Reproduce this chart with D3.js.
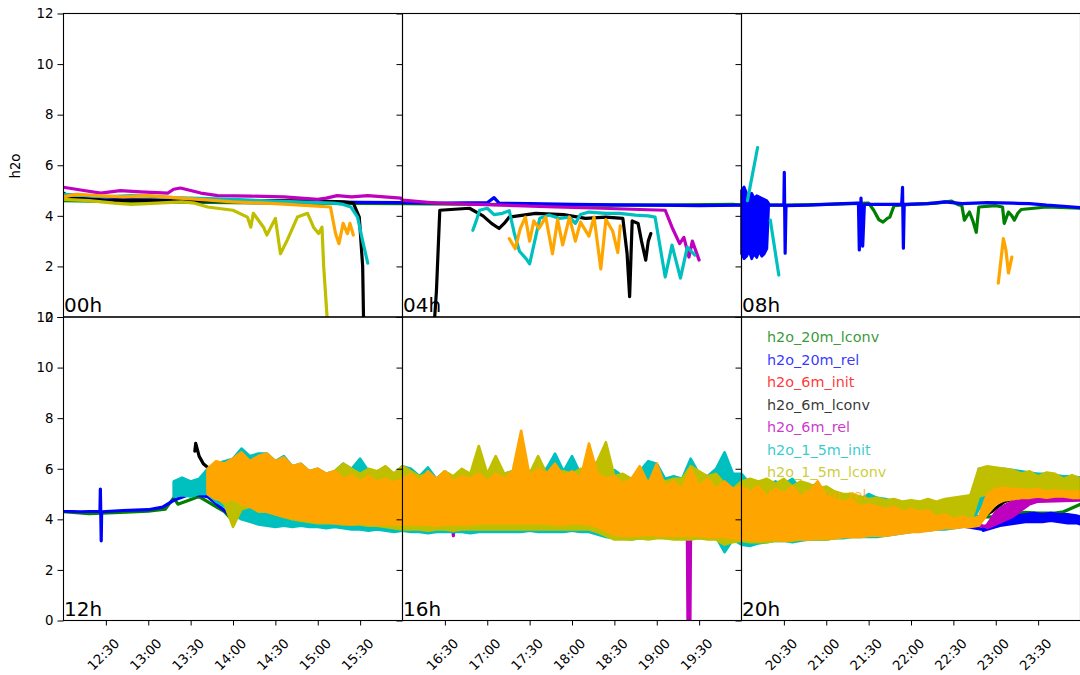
<!DOCTYPE html>
<html>
<head>
<meta charset="utf-8">
<script src="https://cdn.jsdelivr.net/npm/d3@7"></script>
<style>
body { margin: 0; background: #fff; }
svg { display: block; font-family: 'DejaVu Sans', sans-serif; }
</style>
</head>
<body>
<svg></svg>
<script>

// series names and colours, in plotting order
var seriesNames = ['h2o_20m_lconv', 'h2o_20m_rel', 'h2o_6m_init', 'h2o_6m_lconv',
	'h2o_6m_rel', 'h2o_1_5m_init', 'h2o_1_5m_lconv', 'h2o_1_5m_rel'];
var seriesColors = ['#008000', '#0000ff', '#ff0000', '#000000',
	'#bf00bf', '#00bfbf', '#bfbf00', '#ffa500'];

var panelLabels = ['00h', '04h', '08h', '12h', '16h', '20h'];
var yTicks = [0, 2, 4, 6, 8, 10, 12];

// time in decimal hours, value h2o; null = gap
var lconv20Line = [[0,4.6],[1,4.55],[2,4.52],[3,4.5],[4,4.48],[5,4.45],[6,4.42],[7,4.42],[7.9,4.45],[8,4.42],
	[8.5,4.42],[9,4.45],[9.5,4.5],[9.56,4.22],[9.62,3.85],[9.67,3.75],[9.72,3.9],[9.75,3.95],[9.8,4.4],[10,4.45],
	[10.3,4.5],[10.48,4.58],[10.55,4.45],[10.6,4.4],[10.63,3.83],[10.66,4.0],[10.69,4.15],[10.73,3.8],[10.77,3.35],[10.8,4.35],
	[11.0,4.4],[11.08,4.35],[11.1,3.7],[11.15,4.15],[11.19,4.0],[11.22,3.83],[11.26,4.1],[11.3,4.25],[11.6,4.35],[12,4.3],
	[12.3,4.22],[12.6,4.26],[13.0,4.32],[13.2,4.4],[13.3,4.85],[13.35,4.6],[13.6,4.9],[13.9,4.3],[13.97,4.05],[14.1,4.5],
	[15,4.6],[16,4.5],[17,4.6],[18,4.5],[19,4.3],[20,4.1],[21,4.0],[22,4.1],[22.5,4.1],[23,4.1],
	[23.35,4.28],[23.5,4.25],[23.7,4.25],[23.8,4.3],[23.9,4.45],[24,4.6]];

var rel20Line = [[0,4.7],[0.5,4.65],[1,4.62],[1.5,4.6],[2,4.58],[2.5,4.56],[3,4.55],[3.5,4.53],[4,4.52],[4.5,4.5],
	[5,4.52],[5.08,4.72],[5.14,4.5],[5.5,4.48],[6,4.45],[6.5,4.43],[7,4.42],[7.5,4.4],[8.0,4.42],null,
	[8.32,4.42],[8.5,4.42],[8.505,5.72],[8.515,2.52],[8.525,4.4],[8.8,4.42],[9.0,4.45],[9.2,4.48],[9.38,4.5],[9.39,2.65],
	[9.41,4.7],[9.43,2.8],[9.45,4.45],[9.7,4.45],[9.89,4.45],[9.9,5.13],[9.91,2.72],[9.92,4.45],[10.2,4.48],[10.4,4.55],
	[10.6,4.48],[10.9,4.52],[11.2,4.5],[11.4,4.48],[11.6,4.42],[11.8,4.38],[12.0,4.32],[12.2,4.3],[12.43,4.32],[12.435,5.2],
	[12.445,3.15],[12.45,4.3],[12.7,4.35],[13.0,4.38],[13.17,4.48],[13.3,4.75],[13.5,5.0],[13.7,4.9],[13.97,4.15],[14.1,4.6],
	[15,4.5],[16,4.4],[17,4.5],[18,4.4],[19,4.2],[20,4.0],[21,3.9],[22,3.9],[22.5,3.8],[22.85,3.6]];
// noisy stretches: [hour, low, high]
var rel20Band = [[8.0,2.5,5.0],[8.03,2.3,5.15],[8.06,2.4,4.9],[8.09,2.6,4.8],[8.12,2.3,4.9],[8.15,2.5,4.7],[8.18,2.35,4.8],
	[8.21,2.6,4.75],[8.24,2.4,4.7],[8.27,2.5,4.65],[8.3,2.7,4.6],[8.32,4.3,4.5],null,
	[22.85,3.55,3.7],[22.95,3.65,3.85],[23.05,3.75,3.95],[23.15,3.8,4.05],[23.25,3.85,4.15],[23.35,3.9,4.2],[23.45,3.9,4.25],
	[23.55,3.9,4.2],[23.65,3.95,4.25],[23.75,3.9,4.2],[23.85,3.85,4.2],[23.95,3.85,4.15],[24.0,3.8,4.1]];

var init6Line = [];

var lconv6Line = [[0,4.9],[0.1,4.7],[0.5,4.6],[1,4.62],[1.5,4.6],[2,4.6],[2.5,4.6],[3,4.58],[3.3,4.55],[3.42,4.5],
	[3.49,3.95],[3.53,2.0],[3.54,0],[3.56,-1],[4.36,-1],[4.4,1.0],[4.44,4.22],[4.79,4.3],[4.95,4.0],[5.05,3.7],
	[5.14,3.5],[5.2,3.7],[5.26,3.95],[5.57,4.1],[5.9,4.05],[6.16,3.9],[6.4,3.95],[6.6,3.9],[6.65,2.5],[6.68,0.8],
	[6.71,3.8],[6.78,3.7],[6.82,3.0],[6.87,2.25],[6.9,3.0],[6.93,3.3],null,
	[13.55,6.7],[13.56,7.0],[13.6,6.5],[13.65,6.2],[13.72,6.0],[13.78,5.7],[14.0,5.0],[14.5,4.8],[15,4.7],[16,4.6],
	[17,4.7],[18,4.6],[19,4.3],[20,4.2],[21,4.0],[22,3.9],[22.7,3.9],[22.8,4.0],[22.95,4.3],[23.1,4.7],
	[23.3,4.9],[23.6,5.0],[24,5.0]];

var rel6Line = [[0,5.13],[0.24,5.0],[0.44,4.9],[0.67,5.0],[0.91,4.95],[1.23,4.9],[1.3,5.05],[1.38,5.1],[1.5,5.0],[1.62,4.9],
	[1.82,4.8],[2.21,4.78],[2.6,4.75],[3.0,4.65],[3.1,4.7],[3.23,4.8],[3.4,4.75],[3.59,4.8],[3.98,4.7],[4.0,4.62],
	[4.4,4.5],[5.18,4.42],[5.8,4.35],[6.36,4.3],[6.8,4.25],[7.1,4.22],[7.18,3.55],[7.27,2.9],[7.32,3.15],[7.38,2.37],
	[7.42,3.0],[7.5,2.25],null,
	[13.75,5.0],[14.5,4.6],[15.5,4.3],[16.0,4.2],[16.58,4.2],[16.6,3.35],[16.62,4.2],[17.58,4.2],[17.6,3.6],[17.62,4.2],
	[18.5,3.9],[19.36,3.8],[19.37,-1],[19.39,-1],[19.4,3.8],[20,3.7],[21,3.6],[22,3.8],[22.6,3.9],[22.9,3.7]];
var rel6Band = [[22.9,3.65,3.8],[23.0,3.8,4.3],[23.1,3.95,4.55],[23.2,4.1,4.7],[23.3,4.35,4.75],[23.4,4.6,4.8],
	[23.5,4.7,4.82],[23.7,4.72,4.85],[24.0,4.75,4.9]];

var init15Line = [[0,4.85],[0.3,4.8],[0.5,4.75],[0.8,4.8],[1.0,4.78],[1.3,4.72],[1.5,4.7],[2.0,4.65],[2.5,4.58],[3.0,4.52],
	[3.19,4.5],[3.3,4.45],[3.39,4.35],[3.47,3.95],[3.53,3.0],[3.59,2.13],null,
	[4.83,3.43],[4.87,3.8],[4.91,4.22],[5.0,4.3],[5.08,4.05],[5.18,4.1],[5.26,4.2],[5.32,3.3],[5.38,2.6],[5.46,2.3],
	[5.5,2.1],[5.62,3.9],[5.73,4.03],[5.85,3.9],[5.97,3.95],[6.04,3.7],[6.1,4.05],[6.2,4.15],[6.4,4.1],[6.56,4.1],
	[6.75,4.03],[6.9,4.0],[6.98,3.95],[7.1,1.58],[7.18,2.84],[7.28,1.54],[7.36,2.76],[7.45,2.45],null,
	[8.07,4.6],[8.19,6.7],null,[8.34,3.83],[8.44,1.66]];

var lconv15Line = [[0,4.65],[0.3,4.6],[0.6,4.5],[0.8,4.45],[1.1,4.5],[1.4,4.55],[1.55,4.5],[1.7,4.35],[2.0,4.22],[2.17,3.95],
	[2.21,3.55],[2.24,4.1],[2.36,3.55],[2.4,3.24],[2.5,3.9],[2.56,2.5],[2.64,3.04],[2.76,3.95],[2.88,4.1],[2.95,3.55],
	[3.01,3.3],[3.05,3.55],[3.07,2.0],[3.11,0],[3.13,-1]];

var rel15Line = [[0,4.75],[0.15,4.85],[0.4,4.8],[0.7,4.75],[1.0,4.8],[1.3,4.72],[1.6,4.65],[1.8,4.6],[2.0,4.55],[2.4,4.5],
	[2.8,4.42],[3.15,4.35],[3.21,3.3],[3.25,2.9],[3.3,3.7],[3.35,3.3],[3.38,3.7],[3.42,3.24],null,
	[5.26,3.1],[5.33,2.7],[5.39,3.5],[5.45,3.95],[5.5,3.0],[5.55,3.8],[5.61,3.5],[5.69,3.95],[5.77,2.5],[5.83,3.85],
	[5.89,2.85],[5.97,3.95],[6.04,3.0],[6.1,3.75],[6.2,3.2],[6.26,3.95],[6.34,1.9],[6.4,3.85],[6.48,3.4],[6.54,2.55],
	[6.57,3.6],null,[11.03,1.34],[11.09,3.1],[11.12,2.65],[11.15,1.74],[11.19,2.37]];

// afternoon noise envelopes, one value every 6 minutes from 13.3h to 24.0h
var bandHours = d3.range(133, 241).map(function(d) { return d / 10; });

var rel15Hi = [null,null,null,null,6.0,6.3,6.2,6.4,6.65,6.3,
	6.5,6.6,6.3,6.45,6.1,6.2,5.9,6.0,5.8,5.9,
	5.6,5.75,5.5,5.7,5.5,5.6,5.45,5.6,5.8,5.5,
	5.9,5.6,5.9,5.5,5.7,5.6,5.8,5.5,5.8,5.6,
	5.9,7.5,5.7,6.0,5.8,6.2,5.7,5.9,5.6,7.0,
	5.8,5.6,5.7,5.4,5.6,6.1,5.4,6.2,5.3,5.5,
	5.2,6.0,5.3,5.6,5.2,5.5,5.2,5.3,5.1,5.3,
	4.9,5.2,5.0,5.3,4.9,5.1,5.5,4.9,4.8,4.7,
	4.8,4.5,4.6,4.5,4.4,4.5,4.3,4.4,4.3,4.35,
	4.1,4.2,4.0,4.1,4.0,4.1,5.0,5.2,5.25,5.2,
	5.2,5.15,5.2,5.1,5.15,5.1,5.1,5.1];
var rel15Lo = [null,null,null,null,5.0,4.8,4.7,4.8,4.6,4.5,
	4.35,4.3,4.2,4.1,4.05,4.0,3.95,3.9,3.9,3.85,
	3.85,3.8,3.85,3.8,3.8,3.8,3.8,3.8,3.8,3.8,
	3.8,3.75,3.8,3.8,3.8,3.8,3.85,3.85,3.85,3.85,
	3.85,3.85,3.85,3.85,3.85,3.8,3.8,3.85,3.85,3.8,
	3.7,3.55,3.4,3.35,3.35,3.35,3.4,3.35,3.35,3.35,
	3.35,3.35,3.35,3.3,3.3,3.3,3.25,3.2,3.2,3.15,
	3.2,3.2,3.15,3.2,3.2,3.2,3.25,3.25,3.25,3.3,
	3.3,3.3,3.35,3.35,3.35,3.4,3.45,3.5,3.5,3.55,
	3.6,3.65,3.65,3.7,3.7,3.75,4.2,4.6,4.75,4.8,
	4.85,4.85,4.9,4.85,4.9,4.9,4.85,4.85];

var lconv15Hi = [null,null,null,null,5.8,6.2,6.0,6.1,6.3,6.0,
	6.1,6.2,5.9,6.1,5.8,5.9,5.9,6.0,5.8,5.9,
	6.2,6.0,5.8,6.0,5.9,6.1,5.8,6.1,5.9,5.7,
	5.8,5.6,5.9,5.7,6.0,5.8,6.9,5.8,6.5,5.8,
	5.9,6.0,5.8,6.5,5.8,5.9,5.9,5.8,6.0,5.9,
	6.3,7.05,5.7,5.8,5.6,5.7,5.5,5.7,5.5,5.6,
	5.6,6.1,5.9,5.7,5.8,5.4,5.2,5.5,5.6,5.5,
	5.6,5.4,5.6,5.3,5.5,5.4,5.2,5.3,5.1,5.0,
	5.0,4.9,4.8,4.85,4.75,4.8,4.7,4.75,4.7,4.8,
	4.7,4.8,4.85,4.9,4.95,6.0,6.1,6.05,6.0,5.95,
	5.8,5.9,5.7,5.85,5.8,5.6,5.75,5.6];
var lconv15Lo = [null,null,null,null,5.2,4.9,4.6,3.7,4.4,4.5,
	4.3,4.3,4.2,4.1,4.0,3.95,3.9,3.85,3.85,3.85,
	3.8,3.8,3.8,3.75,3.75,3.7,3.65,3.6,3.6,3.6,
	3.55,3.6,3.6,3.55,3.6,3.6,3.6,3.6,3.6,3.6,
	3.6,3.6,3.6,3.6,3.6,3.6,3.6,3.6,3.6,3.6,
	3.5,3.35,3.2,3.2,3.2,3.25,3.2,3.25,3.25,3.2,
	3.2,3.2,3.25,3.2,3.2,3.0,3.1,3.15,3.1,3.1,
	3.1,3.15,3.15,3.15,3.2,3.2,3.2,3.2,3.25,3.3,
	3.3,3.3,3.35,3.35,3.4,3.45,3.5,3.5,3.55,3.6,
	3.6,3.7,3.7,3.75,3.8,4.9,5.0,5.0,5.0,5.0,
	5.0,5.0,5.0,5.0,5.0,5.0,5.0,5.0];

var init15Hi = [5.5,5.65,5.5,5.6,6.0,6.2,6.3,6.4,6.8,6.5,
	6.6,6.6,6.3,6.5,6.1,6.2,5.9,6.0,5.8,5.9,
	6.2,6.0,6.4,5.9,5.9,6.0,5.8,6.1,6.0,5.7,
	6.05,5.6,5.9,5.6,5.9,5.8,5.8,5.6,5.9,5.8,
	5.9,6.0,5.9,6.0,6.0,6.6,5.9,6.5,5.8,6.0,
	5.9,5.8,5.95,5.7,5.6,5.9,6.3,6.2,5.6,5.7,
	5.6,6.4,5.8,5.7,6.0,6.65,5.8,5.8,5.4,5.5,
	5.3,5.5,5.4,5.6,5.2,5.3,5.4,5.1,5.0,4.9,
	4.9,4.8,5.0,4.85,4.8,4.7,4.6,4.75,4.6,4.6,
	4.55,4.5,4.6,4.4,4.3,6.0,6.05,6.0,6.0,5.95,
	5.9,5.85,5.8,5.8,5.75,5.7,5.7,5.65];
var init15Lo = [4.9,4.95,4.9,5.0,5.0,4.7,4.5,4.2,4.0,3.9,
	3.8,3.75,3.7,3.75,3.7,3.75,3.7,3.7,3.65,3.7,
	3.65,3.6,3.6,3.55,3.6,3.55,3.5,3.55,3.5,3.5,
	3.45,3.5,3.5,3.5,3.5,3.45,3.5,3.5,3.5,3.5,
	3.5,3.5,3.55,3.5,3.5,3.5,3.5,3.55,3.5,3.5,
	3.4,3.3,3.25,3.25,3.2,3.25,3.25,3.3,3.25,3.3,
	3.3,3.3,3.25,3.3,3.3,2.7,3.2,3.0,2.95,3.05,
	3.1,3.15,3.15,3.1,3.15,3.2,3.2,3.2,3.25,3.25,
	3.3,3.3,3.3,3.3,3.35,3.4,3.45,3.5,3.55,3.55,
	3.6,3.6,3.65,3.7,3.75,4.4,4.8,5.0,5.0,5.0,
	5.0,5.0,5.0,5.0,5.0,5.0,5.0,5.0];

function gridBand(lo, hi) {
	return bandHours.map(function(h, i) {
		return lo[i] === null ? null : [h, lo[i], hi[i]];
	});
}

var series = [
	{ line: lconv20Line, band: [] },
	{ line: rel20Line, band: rel20Band },
	{ line: init6Line, band: [] },
	{ line: lconv6Line, band: [] },
	{ line: rel6Line, band: rel6Band },
	{ line: init15Line, band: gridBand(init15Lo, init15Hi) },
	{ line: lconv15Line, band: gridBand(lconv15Lo, lconv15Hi) },
	{ line: rel15Line, band: gridBand(rel15Lo, rel15Hi) }
];
series.forEach(function(s, i) {
	s.name = seriesNames[i];
	s.color = seriesColors[i];
});

var svg = d3.select('svg').attr('width', 1080).attr('height', 675);

var left = 63.5, panelW = 339;
var rowTops = [13.5, 317], rowH = 303.5;

var defs = svg.append('defs');

panelLabels.forEach(function(label, p) {
	var row = p < 3 ? 0 : 1, col = p % 3;
	var x0 = left + col * panelW, y0 = rowTops[row];
	var t0 = p * 4;

	var x = d3.scaleLinear().domain([t0, t0 + 4]).range([x0, x0 + panelW]);
	var y = d3.scaleLinear().domain([0, 12]).range([y0 + rowH, y0]);

	defs.append('clipPath').attr('id', 'clip' + p)
		.append('rect')
		.attr('x', x0).attr('y', y0)
		.attr('width', panelW).attr('height', rowH);

	var g = svg.append('g').attr('clip-path', 'url(#clip' + p + ')');

	var line = d3.line()
		.defined(function(d) { return d !== null; })
		.x(function(d) { return x(d[0]); })
		.y(function(d) { return y(d[1]); });
	var area = d3.area()
		.defined(function(d) { return d !== null; })
		.x(function(d) { return x(d[0]); })
		.y0(function(d) { return y(d[1]); })
		.y1(function(d) { return y(d[2]); });

	series.forEach(function(s) {
		if (s.band.length) {
			g.append('path')
				.attr('d', area(s.band))
				.attr('fill', s.color)
				.attr('stroke', s.color)
				.attr('stroke-width', 2.6)
				.attr('stroke-linejoin', 'round');
		}
		if (s.line.length) {
			g.append('path')
				.attr('d', line(s.line))
				.attr('fill', 'none')
				.attr('stroke', s.color)
				.attr('stroke-width', 3.2)
				.attr('stroke-linejoin', 'round')
				.attr('stroke-linecap', 'round');
		}
	});

	// spines
	svg.append('rect')
		.attr('x', x0).attr('y', y0)
		.attr('width', panelW).attr('height', rowH)
		.attr('fill', 'none')
		.attr('stroke', '#000')
		.attr('stroke-width', 1.1);

	// y axis (labels only on the first column)
	var yAxis = d3.axisLeft(y).tickValues(yTicks).tickSize(6).tickPadding(4);
	if (col > 0) yAxis.tickFormat('');
	var ya = svg.append('g')
		.attr('transform', 'translate(' + x0 + ',0)')
		.call(yAxis);
	ya.select('.domain').remove();
	ya.selectAll('text').attr('font-size', 13.3).attr('fill', '#000')
		.attr('font-family', 'DejaVu Sans');

	// x axis only on the bottom row
	if (row === 1) {
		var xTicks = [0.5, 1, 1.5, 2, 2.5, 3, 3.5].map(function(d) { return t0 + d; });
		var xAxis = d3.axisBottom(x).tickValues(xTicks).tickSize(5)
			.tickFormat(function(h) {
				var hh = Math.floor(h), mm = Math.round((h - hh) * 60);
				return hh + ':' + (mm < 10 ? '0' + mm : mm);
			});
		var xa = svg.append('g')
			.attr('transform', 'translate(0,' + (y0 + rowH) + ')')
			.call(xAxis);
		xa.select('.domain').remove();
		xa.selectAll('text')
			.attr('font-size', 13.3).attr('fill', '#000')
			.attr('font-family', 'DejaVu Sans')
			.attr('x', 0).attr('y', 0).attr('dy', '0.35em')
			.attr('text-anchor', 'middle')
			.attr('transform', 'translate(-3,34) rotate(-45)');
	}

	svg.append('text')
		.attr('x', x0 + 0.5)
		.attr('y', y0 + rowH - 5)
		.attr('font-size', 20)
		.text(label);
});

svg.append('text')
	.attr('transform', 'translate(20,166) rotate(-90)')
	.attr('text-anchor', 'middle')
	.attr('font-size', 13.3)
	.text('h2o');

// legend, text only, inside the last panel
var legend = svg.append('g').attr('transform', 'translate(767,337)');
legend.selectAll('text')
	.data(series)
	.enter().append('text')
	.attr('x', 0)
	.attr('y', function(d, i) { return i * 22.5; })
	.attr('dy', '0.35em')
	.attr('font-size', 14.4)
	.attr('fill', function(d) { return d.color; })
	.attr('fill-opacity', 0.8)
	.text(function(d) { return d.name; });

</script>
</body>
</html>
